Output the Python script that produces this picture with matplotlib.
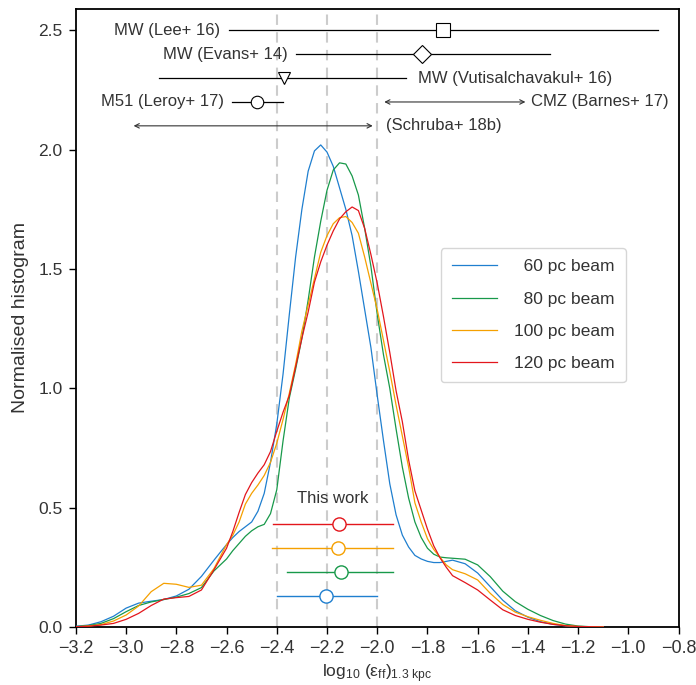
import matplotlib
matplotlib.use("Agg")
import matplotlib.pyplot as plt
import numpy as np

plt.rcParams['font.family'] = ['Liberation Sans', 'DejaVu Sans']
plt.rcParams['mathtext.default'] = 'regular'

# ---------------- data ----------------
x_grid = [-3.25, -3.2, -3.15, -3.1, -3.05, -3.0, -2.95, -2.9, -2.85, -2.8, -2.75, -2.7,
          -2.65, -2.625, -2.6, -2.575, -2.55, -2.525, -2.5, -2.475, -2.45, -2.425, -2.4,
          -2.375, -2.35, -2.325, -2.3, -2.275, -2.25, -2.225, -2.2, -2.175, -2.15, -2.125,
          -2.1, -2.075, -2.05, -2.025, -2.0, -1.975, -1.95, -1.925, -1.9, -1.875, -1.85,
          -1.825, -1.8, -1.775, -1.75, -1.725, -1.7,
          -1.65, -1.6, -1.55, -1.5, -1.45, -1.4, -1.35, -1.3, -1.25, -1.2, -1.15, -1.1]

hist_60 = [0.0, 0.003, 0.008, 0.022, 0.045, 0.079, 0.10, 0.108, 0.115, 0.13, 0.158, 0.212,
           0.28, 0.313, 0.345, 0.375, 0.40, 0.42, 0.44, 0.485, 0.56, 0.69, 0.85,
           1.06, 1.31, 1.55, 1.75, 1.91, 1.995, 2.02, 1.99, 1.93, 1.84, 1.75,
           1.64, 1.49, 1.33, 1.17, 0.97, 0.78, 0.60, 0.47, 0.385, 0.335, 0.30,
           0.285, 0.275, 0.27, 0.27, 0.275, 0.28,
           0.265, 0.226, 0.169, 0.112, 0.068, 0.041, 0.022, 0.011, 0.005, 0.001, 0.0, 0.0]

hist_80 = [0.0, 0.002, 0.006, 0.015, 0.035, 0.064, 0.09, 0.105, 0.115, 0.125, 0.14, 0.165,
           0.235, 0.26, 0.285, 0.32, 0.35, 0.38, 0.403, 0.42, 0.43, 0.475, 0.575,
           0.78, 0.96, 1.08, 1.21, 1.37, 1.55, 1.70, 1.83, 1.915, 1.945, 1.94,
           1.89, 1.81, 1.67, 1.51, 1.31, 1.14, 1.00, 0.83, 0.67, 0.54, 0.44,
           0.375, 0.33, 0.305, 0.293, 0.29, 0.288,
           0.284, 0.26, 0.211, 0.15, 0.106, 0.074, 0.048, 0.027, 0.012, 0.004, 0.001, 0.0]

hist_100 = [0.0, 0.001, 0.004, 0.01, 0.025, 0.05, 0.088, 0.148, 0.183, 0.179, 0.166, 0.175,
            0.245, 0.295, 0.345, 0.385, 0.44, 0.515, 0.56, 0.595, 0.635, 0.69, 0.77,
            0.87, 0.98, 1.10, 1.24, 1.35, 1.46, 1.57, 1.64, 1.69, 1.715, 1.72,
            1.695, 1.65, 1.55, 1.44, 1.33, 1.20, 1.07, 0.93, 0.80, 0.67, 0.52,
            0.44, 0.37, 0.325, 0.292, 0.26, 0.24,
            0.223, 0.197, 0.141, 0.094, 0.062, 0.043, 0.028, 0.015, 0.006, 0.002, 0.001, 0.0]

hist_120 = [0.0, 0.001, 0.003, 0.008, 0.015, 0.032, 0.057, 0.09, 0.117, 0.123, 0.128, 0.155,
            0.24, 0.285, 0.33, 0.40, 0.48, 0.555, 0.605, 0.645, 0.68, 0.735, 0.82,
            0.90, 0.97, 1.09, 1.21, 1.32, 1.445, 1.53, 1.60, 1.66, 1.71, 1.74,
            1.76, 1.745, 1.67, 1.56, 1.44, 1.30, 1.15, 0.99, 0.86, 0.70, 0.57,
            0.49, 0.41, 0.34, 0.29, 0.25, 0.215,
            0.186, 0.155, 0.113, 0.072, 0.048, 0.032, 0.02, 0.011, 0.005, 0.002, 0.001, 0.0]

beam_labels = ['60 pc beam', '80 pc beam', '100 pc beam', '120 pc beam']
beam_colors = ['#1f7fcf', '#18994a', '#f5a000', '#e3161c']

# "This work" medians and ranges (order: 60, 80, 100, 120)
tw_center = [-2.205, -2.145, -2.156, -2.151]
tw_low = [-2.40, -2.358, -2.419, -2.414]
tw_high = [-2.002, -1.938, -1.938, -1.938]
tw_y = [0.13, 0.23, 0.33, 0.43]

# literature values
lit_names = ['MW (Lee+ 16)', 'MW (Evans+ 14)', 'MW (Vutisalchavakul+ 16)', 'M51 (Leroy+ 17)']
lit_center = [-1.74, -1.82, -2.373, -2.478]
lit_low = [-2.59, -2.322, -2.869, -2.579]
lit_high = [-0.883, -1.314, -1.886, -2.377]
lit_y = [2.5, 2.4, 2.3, 2.2]
lit_markers = ['s', 'D', 'v', 'o']

range_names = ['CMZ (Barnes+ 17)', '(Schruba+ 18b)']
range_low = [-1.972, -2.97]
range_high = [-1.41, -2.018]
range_y = [2.2, 2.1]

vlines_x = [-2.4, -2.2, -2.0]

# ---------------- plot ----------------
fig = plt.figure(figsize=(6.96, 6.85), dpi=100)
ax = fig.add_axes([0.109, 0.0847, 0.866, 0.9023])

txtc = '#333333'
fs = 12

for v in vlines_x:
    ax.axvline(v, color='#cccccc', lw=1.5, ls=(0, (5, 3.5)), zorder=1)

hists = [hist_60, hist_80, hist_100, hist_120]
handles = []
for h, c in zip(hists, beam_colors):
    ln, = ax.plot(x_grid, h, color=c, lw=0.9, zorder=3)
    handles.append(ln)

# This work
for c, xc, lo, hi, yy in zip(beam_colors, tw_center, tw_low, tw_high, tw_y):
    ax.plot([lo, hi], [yy, yy], color=c, lw=1.0, zorder=4)
    ax.plot([xc], [yy], marker='o', ms=9.5, mfc='white', mec=c, mew=1.0, zorder=5)
ax.text(-2.178, 0.54, 'This work', ha='center', va='center', fontsize=fs, color=txtc)

# literature
marker_sizes = {'s': 9.5, 'D': 9.5, 'v': 8.5, 'o': 9}
for name, xc, lo, hi, yy, m in zip(lit_names, lit_center, lit_low, lit_high, lit_y, lit_markers):
    ax.plot([lo, hi], [yy, yy], color='black', lw=0.9, zorder=4)
    ax.plot([xc], [yy], marker=m, ms=marker_sizes[m], mfc='white', mec='black', mew=0.8, zorder=5)

ax.text(-2.624, 2.5, lit_names[0], ha='right', va='center', fontsize=fs, color=txtc)
ax.text(-2.357, 2.4, lit_names[1], ha='right', va='center', fontsize=fs, color=txtc)
ax.text(-1.837, 2.3, lit_names[2], ha='left', va='center', fontsize=fs, color=txtc)
ax.text(-2.61, 2.2, lit_names[3], ha='right', va='center', fontsize=fs, color=txtc)

for lo, hi, yy in zip(range_low, range_high, range_y):
    ax.annotate('', xy=(lo, yy), xytext=(hi, yy),
                arrowprops=dict(arrowstyle='<->', color=txtc, lw=0.8,
                                shrinkA=0, shrinkB=0, mutation_scale=8))
ax.text(-1.389, 2.2, range_names[0], ha='left', va='center', fontsize=fs, color=txtc)
ax.text(-1.967, 2.1, range_names[1], ha='left', va='center', fontsize=fs, color=txtc)

ax.set_xlim(-3.2, -0.8)
ax.set_ylim(0.0, 2.59)
xt = np.arange(-3.2, -0.79, 0.2)
ax.set_xticks(xt)
ax.set_xticklabels(['\u2212%.1f' % abs(t) for t in xt])
ax.set_yticks([0.0, 0.5, 1.0, 1.5, 2.0, 2.5])
ax.tick_params(axis='both', direction='out', length=5, width=1, labelsize=12.5,
               colors='black', labelcolor=txtc, pad=4.5)
ax.tick_params(axis='x', labelsize=13)
for s in ax.spines.values():
    s.set_linewidth(1.3)

ax.set_xlabel(r'log$_{10}$ ($\epsilon_{ff}$)$_{1.3\ kpc}$', fontsize=12.5, color=txtc, labelpad=4)
ax.set_ylabel('Normalised histogram', fontsize=14, color=txtc, labelpad=7)

# right-aligned legend labels (pad short labels with a figure space)
maxlen = max(len(l) for l in beam_labels)
leg_labels = ['\u2007' * (maxlen - len(l)) + l for l in beam_labels]
leg = ax.legend(handles, leg_labels, loc='upper left', bbox_to_anchor=(0.605, 0.613),
                fontsize=12.5, handlelength=2.6, labelspacing=0.99, borderpad=0.64,
                handletextpad=1.0, frameon=True, fancybox=True, edgecolor='#cccccc',
                borderaxespad=0)
for t in leg.get_texts():
    t.set_color(txtc)

fig.savefig('out.png', dpi=100)
